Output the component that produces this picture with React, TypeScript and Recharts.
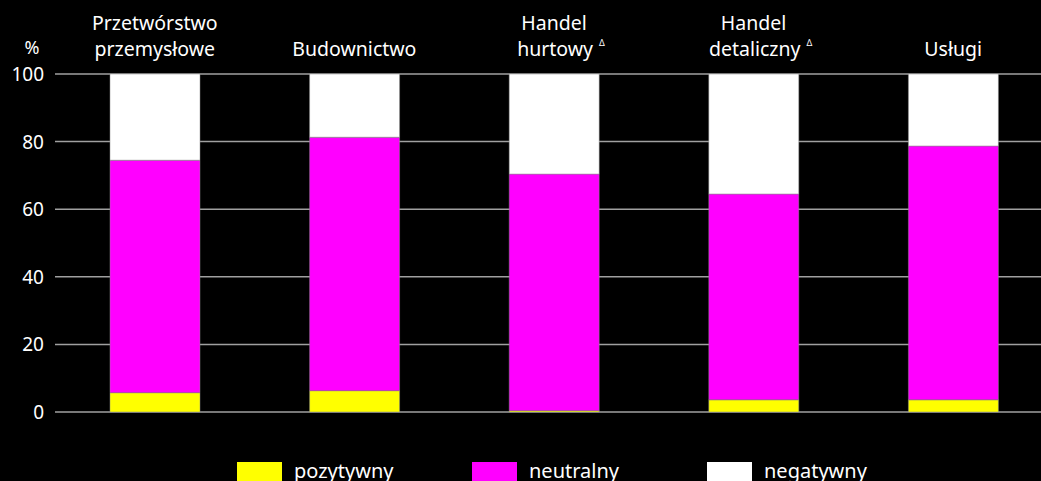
import React from 'react';
import { BarChart, Bar, XAxis, YAxis, CartesianGrid, Legend } from 'recharts';

const categories = ['Przetwórstwo|przemysłowe', 'Budownictwo', 'Handel|hurtowy', 'Handel|detaliczny', 'Usługi'];
const deltaMark = [false, false, true, true, false];
const pozytywny = [5.7, 6.3, 0.4, 3.6, 3.6];
const neutralny = [68.8, 75.0, 70.0, 60.9, 75.1];
const negatywny = [25.5, 18.7, 29.6, 35.5, 21.3];
const yTicks = [0, 20, 40, 60, 80, 100];
const seriesNames = ['pozytywny', 'neutralny', 'negatywny'];
const seriesColors = ['#ffff00', '#ff00ff', '#ffffff'];

const data = categories.map((c, i) => ({
  name: c,
  pozytywny: pozytywny[i],
  neutralny: neutralny[i],
  negatywny: negatywny[i],
}));

const FONT = '"Noto Sans", "Open Sans", sans-serif';

const TopTick = (props: any) => {
  const { x, payload, index } = props;
  const lines: string[] = String(payload.value).split('|');
  const last = lines.length - 1;
  return (
    <g>
      {lines.map((ln, i) => {
        const withDelta = i === last && deltaMark[index];
        return (
          <text
            key={i}
            x={withDelta ? x + 7 : x}
            y={56 - (last - i) * 26}
            textAnchor="middle"
            fill="#ffffff"
            fontSize={19.5}
            fontFamily={FONT}
          >
            {ln}
            {withDelta ? (
              <tspan dx={6} dy={-10} fontSize={9}>
                Δ
              </tspan>
            ) : null}
          </text>
        );
      })}
    </g>
  );
};

const LeftTick = (props: any) => {
  const { y, payload } = props;
  return (
    <g>
      <text x={44} y={y} textAnchor="end" dominantBaseline="central" fill="#ffffff" fontSize={19} fontFamily={FONT}>
        {payload.value}
      </text>
      {payload.value === 100 ? (
        <text x={32} y={y - 27} textAnchor="middle" dominantBaseline="central" fill="#ffffff" fontSize={18} fontFamily={FONT}>
          %
        </text>
      ) : null}
    </g>
  );
};

const LegendContent = () => {
  const lefts = [237, 472, 707];
  return (
    <div style={{ position: 'relative', width: 1053, height: 40 }}>
      {seriesNames.map((n, i) => (
        <div key={n} style={{ position: 'absolute', left: lefts[i], top: 0, display: 'flex', alignItems: 'flex-start' }}>
          <div style={{ width: 45, height: 22, background: seriesColors[i], marginTop: 4 }} />
          <span style={{ color: '#ffffff', fontFamily: FONT, fontSize: 20, marginLeft: 12, lineHeight: '26px' }}>{n}</span>
        </div>
      ))}
    </div>
  );
};

export default function App() {
  return (
    <div style={{ position: 'absolute', left: 0, top: 0, width: 1041, height: 481, overflow: 'hidden', background: '#000000' }}>
      <BarChart
        width={1053}
        height={520}
        data={data}
        margin={{ top: 0, right: 0, bottom: 68, left: 0 }}
        barCategoryGap={0}
      >
        <CartesianGrid vertical={false} stroke="#a0a0a0" strokeWidth={1.5} />
        <XAxis
          dataKey="name"
          orientation="top"
          height={74}
          axisLine={false}
          tickLine={false}
          interval={0}
          tick={<TopTick />}
        />
        <YAxis
          domain={[0, 100]}
          ticks={yTicks}
          width={55}
          axisLine={false}
          tickLine={false}
          tick={<LeftTick />}
          interval={0}
        />
        <Legend
          content={<LegendContent />}
          wrapperStyle={{ position: 'absolute', left: 0, top: 458, width: 1053 }}
        />
        {seriesNames.map((n, i) => (
          <Bar
            key={n}
            dataKey={n}
            stackId="a"
            fill={seriesColors[i]}
            stroke="#8a8a8a"
            strokeWidth={0.5}
            barSize={90}
            isAnimationActive={false}
          />
        ))}
      </BarChart>
    </div>
  );
}
